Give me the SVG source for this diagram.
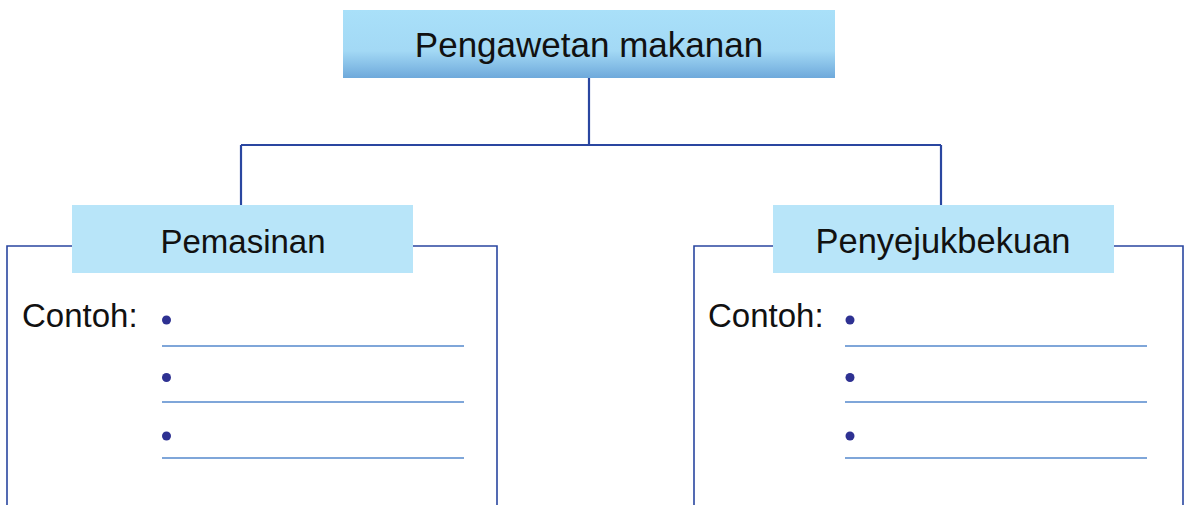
<svg xmlns="http://www.w3.org/2000/svg" width="1185" height="505" viewBox="0 0 1185 505">
<defs>
<linearGradient id="topg" x1="0" y1="0" x2="0" y2="1">
<stop offset="0" stop-color="#a9e0f9"/>
<stop offset="0.6" stop-color="#a3d9f5"/>
<stop offset="1" stop-color="#6ea9db"/>
</linearGradient>
<style>
.t{font-family:"Liberation Sans",Arial,sans-serif;fill:#111;}
.conn{stroke:#2a46a0;stroke-width:2.2;fill:none;}
.frame{stroke:#2a46a0;stroke-width:1.6;fill:none;}
.sub{fill:#b8e5f9;}
.ln{stroke:#7fa6d9;stroke-width:2;}
.dot{fill:#2e3192;}
</style>
</defs>
<rect width="1185" height="505" fill="#fff"/>
<g id="connectors">
<path class="conn" d="M589 78 V145 M241 145 H941 M241 145 V205 M941 145 V205"/>
</g>
<g id="root">
<rect x="343" y="10" width="492" height="68" fill="url(#topg)"/>
<text class="t" x="589" y="57" font-size="35" text-anchor="middle">Pengawetan makanan</text>
</g>
<g id="pemasinan">
<path class="frame" d="M72 246 H7 V505 M413 246 H497 V505"/>
<rect class="sub" x="72" y="205" width="341" height="68"/>
<text class="t" x="243" y="253" font-size="33" text-anchor="middle">Pemasinan</text>
<text class="t" x="22" y="327" font-size="33">Contoh:</text>
<circle class="dot" cx="166.5" cy="320" r="4.5"/>
<circle class="dot" cx="166.5" cy="377.5" r="4.5"/>
<circle class="dot" cx="166.5" cy="436" r="4.5"/>
<line class="ln" x1="162" y1="346" x2="464" y2="346"/>
<line class="ln" x1="162" y1="402" x2="464" y2="402"/>
<line class="ln" x1="162" y1="458" x2="464" y2="458"/>
</g>
<g id="penyejukbekuan">
<path class="frame" d="M773 246 H694 V505 M1114 246 H1183 V505"/>
<rect class="sub" x="773" y="205" width="341" height="68"/>
<text class="t" x="943" y="253" font-size="34.5" text-anchor="middle">Penyejukbekuan</text>
<text class="t" x="708" y="327" font-size="33">Contoh:</text>
<circle class="dot" cx="850" cy="320" r="4.5"/>
<circle class="dot" cx="850" cy="377.5" r="4.5"/>
<circle class="dot" cx="850" cy="436" r="4.5"/>
<line class="ln" x1="845" y1="346" x2="1147" y2="346"/>
<line class="ln" x1="845" y1="402" x2="1147" y2="402"/>
<line class="ln" x1="845" y1="458" x2="1147" y2="458"/>
</g>
</svg>
